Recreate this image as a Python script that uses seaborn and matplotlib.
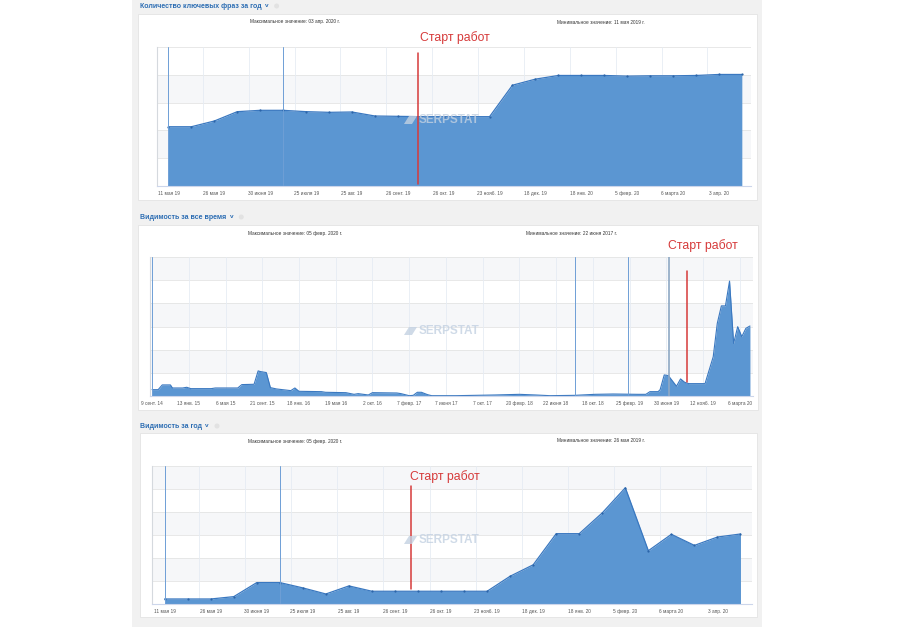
import matplotlib
matplotlib.use("Agg")
import matplotlib.pyplot as plt
import seaborn as sns
from matplotlib.patches import Rectangle, Ellipse, Polygon

# ---------------- data ----------------
year_labels = ["11 мая 19", "26 мая 19", "30 июня 19", "25 июля 19", "25 авг. 19",
               "26 сент. 19", "26 окт. 19", "23 нояб. 19", "18 дек. 19", "18 янв. 20",
               "5 февр. 20", "6 марта 20", "3 апр. 20"]
year_index = list(range(26))

keywords_year = [1066, 1066, 1169, 1337, 1361, 1361, 1337, 1325, 1331, 1259, 1253, 1247, 1247,
                 1247, 1247, 1813, 1922, 1988, 1988, 1988, 1976, 1982, 1982, 1988, 2006, 2006]

visibility_year = [10.9, 10.9, 10.9, 16.0, 46.6, 46.6, 35.0, 21.8, 39.3, 27.7, 27.7, 27.7, 27.7,
                   27.7, 27.7, 60.4, 85.2, 152.9, 152.9, 198.1, 252.7, 115.8, 151.5, 127.4, 145.6, 152.2]

alltime_labels = ["9 сент. 14", "13 янв. 15", "6 мая 15", "21 сент. 15", "18 янв. 16",
                  "19 мая 16", "2 окт. 16", "7 февр. 17", "7 июня 17", "7 окт. 17",
                  "20 февр. 18", "22 июня 18", "18 окт. 18", "25 февр. 19", "30 июня 19",
                  "12 нояб. 19", "6 марта 20"]
alltime_weeks = [0, 3, 5, 9, 10, 15, 17, 19, 29, 31, 42, 44, 50, 52, 53, 56, 58, 61, 68, 70, 72,
                 83, 85, 95, 99, 101, 106, 108, 120, 122, 126, 128, 130, 132, 135, 137, 149, 168,
                 180, 188, 195, 207, 217, 226, 238, 242, 244, 248, 249, 251, 253, 254, 257, 259,
                 261, 263, 271, 273, 275, 277, 279, 281, 283, 285, 287, 289, 291, 293]
alltime_visibility = [13.7, 13.7, 23.9, 23.9, 17.3, 17.3, 18.8, 15.9, 15.9, 17.3, 17.3, 24.6, 25.3,
                      54.2, 52.8, 50.6, 18.1, 15.2, 11.6, 17.3, 10.1, 9.4, 8.0, 7.2, 3.6, 5.1, 2.2,
                      7.2, 6.5, 5.1, 0.7, 1.4, 8.0, 8.0, 2.9, 0.7, 0.7, 2.2, 3.6, 2.2, 0.7, 1.4,
                      3.6, 4.3, 3.6, 3.6, 9.4, 9.4, 13.7, 45.5, 44.1, 38.3, 21.0, 36.9, 29.6, 26.7,
                      26.7, 55.7, 84.6, 156.9, 194.5, 194.5, 248.0, 113.5, 149.6, 128.0, 146.0, 151.1]

titles = ["Количество ключевых фраз за год", "Видимость за все время", "Видимость за год"]
max_texts = ["Максимальное значение: 03 апр. 2020 г.", "Максимальное значение: 05 февр. 2020 г.",
             "Максимальное значение: 05 февр. 2020 г."]
min_texts = ["Минимальное значение: 11 мая 2019 г.", "Минимальное значение: 22 июня 2017 г.",
             "Минимальное значение: 26 мая 2019 г."]
start_label = "Старт работ"
watermark = "SERPSTAT"

# event markers (x positions on each chart's own scale)
kw_events = [0, 5]
kw_start = 10.9
all_events = [207.4, 233.4]
all_event_strong = 253.3
all_start = 262.4
vis_events = [0, 5]
vis_start = 10.7

# ---------------- style ----------------
sns.set_theme(style="white")
plt.rcParams["font.family"] = ["Liberation Sans", "DejaVu Sans"]

W, H = 899, 627
fig = plt.figure(figsize=(W / 100, H / 100), dpi=100)
fig.patch.set_facecolor("white")


def rect(x0, y0, x1, y1):
    return [x0 / W, 1 - y1 / H, (x1 - x0) / W, (y1 - y0) / H]


def fx(x):
    return x / W


def fy(y):
    return 1 - y / H


FILL = "#5b96d2"
LINE = "#3a78c0"
BLUE_EV = "#6e9fd6"
RED = "#d63a3a"
TITLE_C = "#2c6db3"

# page background and cards
fig.patches.append(Rectangle((fx(132), 0), (762 - 132) / W, 1, transform=fig.transFigure,
                             facecolor="#f1f1f1", edgecolor="none", zorder=-3))
cards = [(138, 14, 757, 200), (138, 225, 758, 410), (140, 433, 757, 617)]
for (x0, y0, x1, y1) in cards:
    fig.patches.append(Rectangle((fx(x0), fy(y1)), (x1 - x0) / W, (y1 - y0) / H,
                                 transform=fig.transFigure, facecolor="white",
                                 edgecolor="#e3e3e3", linewidth=0.6, zorder=-2))


def style_axes(ax, xlim, ymax, nb, grey, vgrid, ticks, labels):
    ax.set_facecolor("none")
    ax.set_xlim(*xlim)
    ax.set_ylim(0, ymax)
    band = ymax / nb
    for k in grey:
        ax.axhspan(k * band, (k + 1) * band, color="#f6f7f9", zorder=0, lw=0)
    for k in range(1, nb + 1):
        ax.axhline(k * band, color="#e4e4e4", lw=0.6, zorder=0.5)
    for v in vgrid:
        ax.axvline(v, color="#e6ecf4", lw=0.6, zorder=0.5)
    for s in ["top", "right"]:
        ax.spines[s].set_visible(False)
    ax.spines["bottom"].set_color("#ccd6eb")
    ax.spines["bottom"].set_linewidth(0.8)
    ax.spines["left"].set_color("#d5d9de")
    ax.spines["left"].set_linewidth(0.8)
    ax.set_yticks([])
    ax.set_xticks(ticks)
    ax.set_xticklabels(labels)
    ax.tick_params(axis="x", length=0, labelsize=3.4, labelcolor="#555555", pad=3.5)
    ax.set_xlabel("")
    ax.set_ylabel("")
    ax.grid(False)


# ---- panel 1 ----
ax1 = fig.add_axes(rect(157, 47, 751, 186))
style_axes(ax1, (-0.5, 25.4), 2500, 5, [1, 3], [i + 0.5 for i in range(1, 24, 2)],
           list(range(0, 25, 2)), year_labels)
ax1.fill_between(year_index, keywords_year, color=FILL, lw=0, zorder=1)
sns.lineplot(x=year_index, y=keywords_year, ax=ax1, color=LINE, linewidth=0.9, marker="o",
             markersize=1.6, markeredgewidth=0, markerfacecolor="#2b64a8", zorder=2)
for e in kw_events:
    ax1.axvline(e, color=BLUE_EV, lw=0.7, zorder=3)
ax1.plot([kw_start, kw_start], [42, 2392], color=RED, lw=1.1, zorder=4)

# ---- panel 2 ----
ax2 = fig.add_axes(rect(150, 257, 753, 396))
style_axes(ax2, (-1, 294.5), 300, 6, [1, 3, 5], [18 * k for k in range(1, 17)],
           [18 * k for k in range(17)], alltime_labels)
ax2.fill_between(alltime_weeks, alltime_visibility, color=FILL, lw=0, zorder=1)
sns.lineplot(x=alltime_weeks, y=alltime_visibility, ax=ax2, color=LINE, linewidth=0.8, zorder=2)
ax2.axvline(0, color=BLUE_EV, lw=0.7, zorder=3)
for e in all_events:
    ax2.axvline(e, color=BLUE_EV, lw=0.7, zorder=3)
ax2.axvline(all_event_strong, color="#8ea8c4", lw=1.2, zorder=3)
ax2.plot([all_start, all_start], [30, 269], color=RED, lw=1.1, zorder=4)

# ---- panel 3 ----
ax3 = fig.add_axes(rect(152, 466, 752, 604))
style_axes(ax3, (-0.55, 25.5), 300, 6, [1, 3, 5], [i + 0.5 for i in range(1, 24, 2)],
           list(range(0, 25, 2)), year_labels)
ax3.fill_between(year_index, visibility_year, color=FILL, lw=0, zorder=1)
sns.lineplot(x=year_index, y=visibility_year, ax=ax3, color=LINE, linewidth=0.9, marker="o",
             markersize=1.6, markeredgewidth=0, markerfacecolor="#2b64a8", zorder=2)
for e in vis_events:
    ax3.axvline(e, color=BLUE_EV, lw=0.7, zorder=3)
ax3.plot([vis_start, vis_start], [32, 256], color=RED, lw=1.1, zorder=4)

# ---- texts ----
renderer = fig.canvas.get_renderer()
title_y = [6, 217, 426]
for t, y in zip(titles, title_y):
    tt = fig.text(fx(140), fy(y), t, color=TITLE_C, fontsize=5.0, fontweight="bold",
                  ha="left", va="center")
    x_end = tt.get_window_extent(renderer=renderer).x1
    fig.text(fx(x_end + 5), fy(y) + 0.001, "v", color=TITLE_C, fontsize=4.6, fontweight="bold",
             ha="center", va="center")
    fig.patches.append(Ellipse((fx(x_end + 15), fy(y)), 5 / W, 5 / H, transform=fig.transFigure,
                               facecolor="#e2e2e2", edgecolor="none", zorder=-1))

ann_y = [22, 234, 441]
min_x = [601, 571, 601]
for mt, nt, y, mx in zip(max_texts, min_texts, ann_y, min_x):
    fig.text(fx(295), fy(y), mt, fontsize=3.4, color="#333333", ha="center", va="center")
    fig.text(fx(mx), fy(y), nt, fontsize=3.4, color="#333333", ha="center", va="center")

for (x, y) in [(420, 38), (668, 246), (410, 477)]:
    fig.text(fx(x), fy(y), start_label, fontsize=8.8, color=RED,
             ha="left", va="center")

for y in [120, 331, 540]:
    fig.text(fx(419), fy(y), watermark, fontsize=8.5, fontweight="bold", color="#c3d1e2",
             alpha=0.8, ha="left", va="center")
    logo = Polygon([(fx(404), fy(y + 4)), (fx(409), fy(y - 4)), (fx(417), fy(y - 4)),
                    (fx(412), fy(y + 4))], closed=True, transform=fig.transFigure,
                   facecolor="#c3d1e2", edgecolor="none", alpha=0.8, zorder=5)
    fig.patches.append(logo)

fig.savefig("out.png", dpi=100)
